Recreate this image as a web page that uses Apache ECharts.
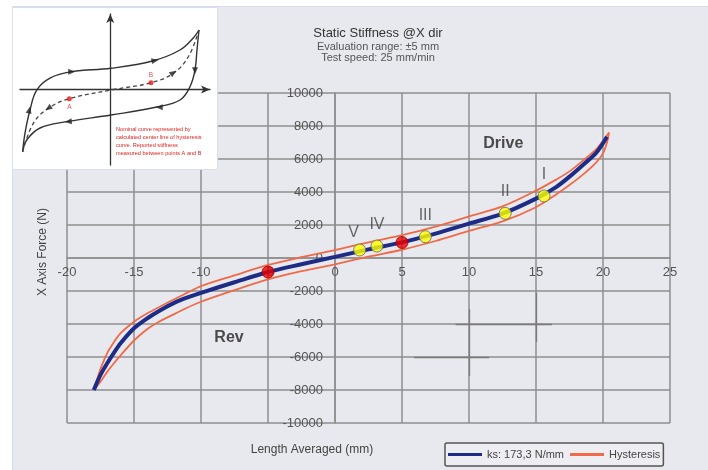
<!DOCTYPE html>
<html><head><meta charset="utf-8">
<script src="https://cdn.jsdelivr.net/npm/echarts@6/dist/echarts.min.js"></script>
<style>html,body{margin:0;padding:0;background:#fff}#c{width:708px;height:470px}</style>
</head><body><div id="c"></div>
<script>
// ---- main chart data ----
const centerX = [-18, -17.75, -17.5, -17, -16.5, -16, -15, -14, -13, -12, -11, -10, -7.5, -5, -2.5, 0, 2.5, 5, 7.5, 10, 12.5, 15, 16.5, 17.5, 18.5, 19.5, 20.3];
const centerY = [-8000, -7520, -7080, -6380, -5750, -5170, -4260, -3650, -3150, -2720, -2390, -2110, -1470, -850, -380, 70, 520, 950, 1480, 2080, 2690, 3600, 4300, 4930, 5640, 6380, 7350];
const upperX = [-18, -17.75, -17.5, -17, -16.5, -16, -15, -14, -13, -12, -11, -10, -7.5, -5, -2.5, 0, 2.5, 5, 7.5, 10, 12.5, 15, 16.5, 17.5, 18.5, 19.5, 20, 20.45];
const upperY = [-8000, -7350, -6720, -5760, -5100, -4560, -3860, -3350, -2920, -2500, -2100, -1700, -1050, -420, 50, 480, 950, 1380, 1900, 2520, 3130, 4080, 4750, 5250, 5900, 6600, 7100, 7600];
const lowerX = [-18, -17.5, -17, -16.5, -16, -15, -14, -13, -12, -11, -10, -7.5, -5, -2.5, 0, 2.5, 5, 7.5, 10, 12.5, 15, 16.5, 17.5, 18.5, 19.5, 20, 20.3, 20.45];
const lowerY = [-8000, -7500, -6900, -6380, -5900, -5000, -4300, -3800, -3400, -3000, -2650, -1950, -1300, -800, -380, 80, 500, 1030, 1640, 2220, 3080, 3850, 4420, 5050, 5800, 6340, 7000, 7600];
const refPtX = [-5, 5];
const refPtY = [-850, 940];
const markX = [15.6, 12.7, 6.74, 3.13, 1.84];
const markY = [3758, 2709, 1290, 727, 485];
const markLabel = ['I', 'II', 'III', 'IV', 'V'];
const annoX = [12.56, -7.91];
const annoY = [6950, -4806];
const annoText = ['Drive', 'Rev'];
const seriesNames = ['ks: 173,3 N/mm', 'Hysteresis'];
const titleText = 'Static Stiffness @X dir';
const subText = 'Evaluation range: \u00b15 mm\nTest speed: 25 mm/min';
const xName = 'Length Averaged (mm)';
const yName = 'X Axis Force (N)';
// faint cross marks seen in the picture
const crossSegs = [[[9, -4000], [16.2, -4000]], [[15, -2100], [15, -5100]], [[5.9, -6000], [11.5, -6000]], [[10, -3100], [10, -7150]]];

// ---- inset (sketch) data ----
const inUpX = [-9.22, -8.97, -8.45, -7.74, -6.34, -4.06, 0.08, 4.53, 7.34, 8.74, 9.34];
const inUpY = [-8.24, -5.76, -2.72, -0.07, 1.52, 2.36, 2.81, 3.81, 5.23, 6.82, 7.88];
const inLoX = [9.34, 9.13, 8.92, 8.39, 7.34, 4.89, 0.08, -4.58, -7.39, -8.79, -9.22];
const inLoY = [7.88, 5.23, 2.58, 0.37, -1.39, -2.32, -3.38, -4.26, -5.10, -6.69, -8.24];
const inMidX = [-9.22, -8.1, -6.52, -4.31, 0.08, 4.29, 6.64, 8.22, 9.34];
const inMidY = [-8.24, -4.48, -2.49, -1.22, -0.07, 0.9, 2.15, 4.34, 7.88];
const inPtX = [-4.31, 4.29];
const inPtY = [-1.22, 0.9];
const inPtLabel = ['A', 'B'];
const arrowX = [-4.06, 4.71, -8.52, 5.16, -4.42, 8.92, 6.64, -6.52];
const arrowY = [2.36, 3.84, -2.72, -2.36, -4.26, 2.49, 2.23, -2.49];
const arrowRot = [-90, -80, -12, 90, 95, 180, -55, 124];
const inNote = 'Nominal curve represented by\ncalculated center line of hysteresis\ncurve. Reported stiffness\nmeasured between points A and B';

const zip = (a, b) => a.map((v, i) => [v, b[i]]);
const FONT = 'Liberation Sans, Arial, sans-serif';
const gridCol = '#8e8e8e';

const chart = echarts.init(document.getElementById('c'), null, {renderer: 'canvas'});
chart.setOption({
  animation: false,
  backgroundColor: '#e8e9ee',
  textStyle: {fontFamily: FONT},
  title: {
    text: titleText, subtext: subText,
    left: 378, top: 26, textAlign: 'center', padding: 0, itemGap: 1,
    textStyle: {fontSize: 13, fontWeight: 'normal', color: '#333', lineHeight: 14, fontFamily: FONT},
    subtextStyle: {fontSize: 11, color: '#555', lineHeight: 11, fontFamily: FONT}
  },
  legend: {
    left: 445, top: 443,
    data: [{name: seriesNames[0], icon: 'rect'}, {name: seriesNames[1], icon: 'rect'}],
    itemWidth: 34, itemHeight: 3, itemGap: 6,
    padding: [6, 3, 6, 3],
    borderColor: '#555', borderWidth: 1.5, borderRadius: 2,
    backgroundColor: 'rgba(255,255,255,0.25)',
    textStyle: {fontSize: 11, color: '#444', fontFamily: FONT}
  },
  grid: [
    {left: 67, top: 93, width: 603, height: 330},
    {left: 20, top: 14, width: 190, height: 151}
  ],
  xAxis: [
    {gridIndex: 0, type: 'value', min: -20, max: 25, interval: 5, z: 0,
      position: 'bottom', offset: -165,
      axisLine: {onZero: false, lineStyle: {color: gridCol, width: 1.5}},
      axisTick: {show: false},
      axisLabel: {margin: 8, color: '#555', fontSize: 13, fontFamily: FONT, formatter: v => String(v)},
      splitLine: {show: true, lineStyle: {color: gridCol, width: 1.5}}},
    {gridIndex: 1, type: 'value', min: -9.5, max: 10.5, z: 6,
      axisLine: {onZero: true, symbol: ['none', 'arrow'], symbolSize: [6, 9], lineStyle: {color: '#333', width: 1.3}},
      axisTick: {show: false}, axisLabel: {show: false}, splitLine: {show: false}}
  ],
  yAxis: [
    {gridIndex: 0, type: 'value', min: -10000, max: 10000, interval: 2000, z: 0,
      position: 'left', offset: -268,
      axisLine: {onZero: false, lineStyle: {color: gridCol, width: 1.5}},
      axisTick: {show: false},
      axisLabel: {margin: 12, color: '#555', fontSize: 13, fontFamily: FONT, formatter: v => String(v)},
      splitLine: {show: true, lineStyle: {color: gridCol, width: 1.5}}},
    {gridIndex: 1, type: 'value', min: -10, max: 10, z: 6,
      axisLine: {onZero: true, symbol: ['none', 'arrow'], symbolSize: [6, 9], lineStyle: {color: '#333', width: 1.3}},
      axisTick: {show: false}, axisLabel: {show: false}, splitLine: {show: false}}
  ],
  graphic: [
    {type: 'rect', z: 1, shape: {x: 0, y: 0, width: 12, height: 470}, style: {fill: '#fff'}},
    {type: 'rect', z: 1, shape: {x: 0, y: 0, width: 708, height: 6}, style: {fill: '#fff'}},
    {type: 'line', z: 1, shape: {x1: 12.5, y1: 6, x2: 12.5, y2: 470}, style: {stroke: '#d3dbec', lineWidth: 1}},
    {type: 'line', z: 1, shape: {x1: 12, y1: 6.5, x2: 708, y2: 6.5}, style: {stroke: '#d3dbec', lineWidth: 1}},
    {type: 'rect', z: 2, shape: {x: 12.5, y: 7.5, width: 205, height: 162}, style: {fill: '#fff', stroke: '#d8dfee', lineWidth: 1}},
    {type: 'text', z: 8, x: 116, y: 126, style: {text: inNote, fill: '#e02020', fontSize: 5.6, lineHeight: 7.8, fontFamily: FONT}},
    {type: 'text', z: 8, x: 43, y: 252, rotation: Math.PI / 2, style: {text: yName, fill: '#444', fontSize: 12, fontFamily: FONT, align: 'center', verticalAlign: 'middle'}},
    {type: 'text', z: 8, x: 312, y: 450, style: {text: xName, fill: '#444', fontSize: 12, fontFamily: FONT, align: 'center', verticalAlign: 'middle'}}
  ],
  series: [
    {name: seriesNames[1], type: 'line', data: zip(upperX, upperY), smooth: 0.3, symbol: 'none', z: 3,
      lineStyle: {color: '#f06a47', width: 1.8}, itemStyle: {color: '#f06a47'}},
    {name: seriesNames[1], type: 'line', data: zip(lowerX, lowerY), smooth: 0.3, symbol: 'none', z: 3,
      lineStyle: {color: '#f06a47', width: 1.8}, itemStyle: {color: '#f06a47'}},
    {name: seriesNames[0], type: 'line', data: zip(centerX, centerY), smooth: 0.3, symbol: 'none', z: 4,
      lineStyle: {color: '#1e2c86', width: 4}, itemStyle: {color: '#1e2c86'}},
    {type: 'line', data: [], silent: true, z: 2,
      markLine: {silent: true, symbol: ['none', 'none'], label: {show: false},
        lineStyle: {color: '#7a7a7a', width: 1.3, type: 'solid'},
        data: crossSegs.map(s => [{coord: s[0]}, {coord: s[1]}])}},
    {type: 'scatter', data: zip(refPtX, refPtY), symbolSize: 12, z: 6,
      itemStyle: {color: '#ee0000', borderColor: '#990000', borderWidth: 1}},
    {type: 'scatter', z: 6, symbolSize: 12,
      data: markX.map((x, i) => ({value: [x, markY[i]], name: markLabel[i],
        label: i === 4 ? {offset: [-6, 4]} : {}})),
      itemStyle: {color: '#ffff00', borderColor: '#666', borderWidth: 1},
      label: {show: true, position: 'top', distance: 7, formatter: '{b}', fontSize: 16, color: '#444', fontFamily: FONT}},
    {type: 'scatter', z: 6, symbolSize: 0,
      data: annoX.map((x, i) => ({value: [x, annoY[i]], name: annoText[i]})),
      label: {show: true, position: 'inside', formatter: '{b}', fontSize: 16, fontWeight: 'bold', color: '#222', fontFamily: FONT}},
    // inset sketch
    {type: 'line', xAxisIndex: 1, yAxisIndex: 1, data: zip(inUpX, inUpY), smooth: 0.4, symbol: 'none', z: 7,
      lineStyle: {color: '#333', width: 1.4}},
    {type: 'line', xAxisIndex: 1, yAxisIndex: 1, data: zip(inLoX, inLoY), smooth: 0.4, symbol: 'none', z: 7,
      lineStyle: {color: '#333', width: 1.4}},
    {type: 'line', xAxisIndex: 1, yAxisIndex: 1, data: zip(inMidX, inMidY), smooth: 0.4, symbol: 'none', z: 7,
      lineStyle: {color: '#444', width: 1.3, type: [4, 3]}},
    {type: 'scatter', xAxisIndex: 1, yAxisIndex: 1, z: 8, symbol: 'triangle', symbolSize: [6, 7],
      data: arrowX.map((x, i) => ({value: [x, arrowY[i]], symbolRotate: arrowRot[i]})),
      itemStyle: {color: '#222'}},
    {type: 'scatter', xAxisIndex: 1, yAxisIndex: 1, z: 8, symbolSize: 5,
      data: inPtX.map((x, i) => ({value: [x, inPtY[i]], name: inPtLabel[i],
        label: {position: i === 0 ? 'bottom' : 'top'}})),
      itemStyle: {color: '#ee1111'},
      label: {show: true, formatter: '{b}', fontSize: 6.5, color: '#e02020', distance: 2, fontFamily: FONT}}
  ]
});
</script></body></html>
